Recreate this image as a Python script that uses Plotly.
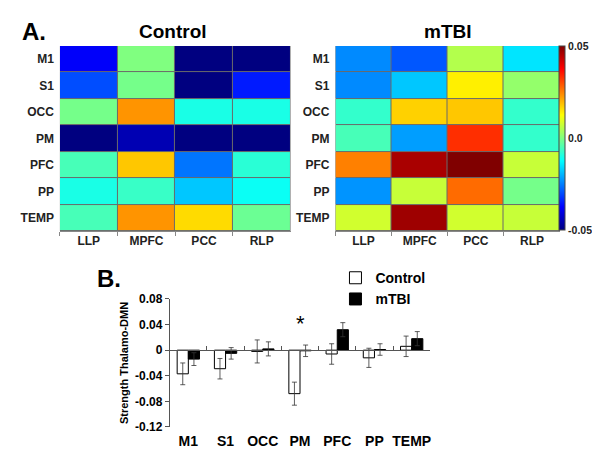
import plotly.graph_objects as go

regions = ["M1", "S1", "OCC", "PM", "PFC", "PP", "TEMP"]
dmn_nodes = ["LLP", "MPFC", "PCC", "RLP"]

control_matrix = [
    [-0.038, 0.000, -0.050, -0.050],
    [-0.030, -0.001, -0.050, -0.035],
    [-0.001, 0.023, -0.010, -0.010],
    [-0.050, -0.045, -0.050, -0.050],
    [-0.0055, 0.018, -0.026, -0.0085],
    [-0.010, -0.007, -0.018, -0.0115],
    [-0.0055, 0.023, 0.016, -0.002],
]
mtbi_matrix = [
    [-0.024, -0.029, 0.005, -0.015],
    [-0.024, -0.018, 0.014, 0.002],
    [-0.0075, 0.017, 0.018, -0.0075],
    [-0.0055, -0.022, 0.033, -0.0075],
    [0.025, 0.046, 0.050, 0.007],
    [-0.023, 0.007, 0.027, -0.001],
    [0.008, 0.047, 0.008, 0.007],
]

control_mean = [-0.037, -0.029, -0.002, -0.068, -0.006, -0.012, 0.006]
control_err = [0.017, 0.016, 0.018, 0.018, 0.016, 0.015, 0.016]
mtbi_mean = [-0.014, -0.005, 0.002, -0.001, 0.032, 0.001, 0.018]
mtbi_err = [0.010, 0.009, 0.011, 0.009, 0.011, 0.009, 0.011]

jet = [
    [0.0, "rgb(0,0,128)"],
    [0.125, "rgb(0,0,255)"],
    [0.375, "rgb(0,255,255)"],
    [0.625, "rgb(255,255,0)"],
    [0.875, "rgb(255,0,0)"],
    [1.0, "rgb(128,0,0)"],
]

FONT = "Liberation Sans, Arial, sans-serif"
W, H = 600, 455


def px(x):
    return x / W


def py(y):
    return 1 - y / H


fig = go.Figure()

fig.add_trace(go.Heatmap(
    z=control_matrix, x=dmn_nodes, y=regions, colorscale=jet,
    zmin=-0.05, zmax=0.05, xgap=1, ygap=1, showscale=False,
    xaxis="x", yaxis="y",
))
fig.add_trace(go.Heatmap(
    z=mtbi_matrix, x=dmn_nodes, y=regions, colorscale=jet,
    zmin=-0.05, zmax=0.05, xgap=1, ygap=1, showscale=True,
    xaxis="x2", yaxis="y2",
    colorbar=dict(
        x=px(552), xanchor="left", xpad=0, ypad=0, thickness=6, len=190 / H,
        y=py(127), yanchor="middle", outlinewidth=1, outlinecolor="#444",
        tickvals=[-0.05, 0, 0.05], ticktext=["-0.05", "0.0", "0.05"],
        ticks="", ticklabelposition="outside",
        tickfont=dict(family=FONT, size=10.5, color="#222", weight="bold"),
    ),
))

fig.add_trace(go.Bar(
    x=regions, y=control_mean, name="Control",
    marker=dict(color="white", line=dict(color="black", width=1)),
    error_y=dict(type="data", array=control_err, color="#333", thickness=0.8, width=2.5),
    xaxis="x3", yaxis="y3",
))
fig.add_trace(go.Bar(
    x=regions, y=mtbi_mean, name="mTBI",
    marker=dict(color="black", line=dict(color="black", width=1)),
    error_y=dict(type="data", array=mtbi_err, color="#333", thickness=0.8, width=2.5),
    xaxis="x3", yaxis="y3",
))
# invisible companion trace so the zero-crossing category axis is drawn
fig.add_trace(go.Scatter(
    x=regions, y=[None] * len(regions), mode="markers", showlegend=False,
    hoverinfo="skip", xaxis="x4", yaxis="y3",
))

tickfont_hm = dict(family=FONT, size=12, color="#222", weight="bold")
hm_x = dict(tickfont=tickfont_hm, showgrid=False, showline=True, linecolor="#888",
            linewidth=1, ticks="outside", tickson="boundaries", ticklen=4,
            tickcolor="#888", ticklabelstandoff=-2)

fig.update_layout(
    width=W, height=H, margin=dict(l=0, r=0, t=0, b=0),
    paper_bgcolor="white", plot_bgcolor="white",
    barmode="group", bargap=0.4, bargroupgap=0,
    xaxis=dict(domain=[px(52), px(283)], anchor="y", **hm_x),
    yaxis=dict(domain=[py(223), py(32)], anchor="x", autorange="reversed",
               tickfont=tickfont_hm, showgrid=False, ticks="", ticklabelstandoff=5),
    xaxis2=dict(domain=[px(328), px(553)], anchor="y2", **hm_x),
    yaxis2=dict(domain=[py(223), py(32)], anchor="x2", autorange="reversed",
                tickfont=tickfont_hm, showgrid=False, ticks="", ticklabelstandoff=5),
    xaxis3=dict(domain=[px(162), px(423)], anchor="y3",
                tickfont=dict(family=FONT, size=14, color="black", weight="bold"),
                showgrid=False, showline=False, ticks="", ticklabelstandoff=4),
    xaxis4=dict(matches="x3", overlaying="x3", anchor="free", position=py(346),
                showline=True, linecolor="#555", linewidth=1, ticks="inside",
                tickson="boundaries", ticklen=4, tickcolor="#555",
                showticklabels=False, showgrid=False),
    yaxis3=dict(domain=[py(425), py(293)], anchor="x3", range=[-0.12, 0.08],
                tickvals=[-0.12, -0.08, -0.04, 0, 0.04, 0.08],
                ticktext=["-0.12", "-0.08", "-0.04", "0", "0.04", "0.08"],
                tickfont=dict(family=FONT, size=12, color="black", weight="bold"),
                showgrid=False, showline=True, linecolor="#555", linewidth=1,
                ticks="outside", ticklen=4, tickcolor="#555",
                zeroline=True, zerolinecolor="#555", zerolinewidth=1,
                title=dict(text="Strength Thalamo-DMN", standoff=4,
                           font=dict(family=FONT, size=11, color="black", weight="bold"))),
    legend=dict(x=px(328), y=py(255), xanchor="left", yanchor="top",
                font=dict(family=FONT, size=14, color="black", weight="bold"),
                bgcolor="rgba(0,0,0,0)", tracegroupgap=0, itemwidth=30),
    showlegend=True,
)

# gray backing behind heatmaps so the cell gaps read as grid lines
for x0, x1 in [(52, 283), (328, 553)]:
    fig.add_shape(type="rect", xref="paper", yref="paper",
                  x0=px(x0), x1=px(x1), y0=py(223), y1=py(32),
                  fillcolor="#6a6a6a", line=dict(width=0), layer="below")

annots = [
    dict(text="A.", x=px(12), y=py(17), size=24),
    dict(text="Control", x=px(165), y=py(17), size=19, xanchor="center"),
    dict(text="mTBI", x=px(441), y=py(17), size=19, xanchor="center"),
    dict(text="B.", x=px(87), y=py(272), size=24),
]
for a in annots:
    fig.add_annotation(
        text=a["text"], x=a["x"], y=a["y"], xref="paper", yref="paper",
        xanchor=a.get("xanchor", "left"), yanchor="middle", showarrow=False,
        font=dict(family=FONT, size=a["size"], color="black", weight="bold"),
    )

fig.add_annotation(text="*", x="PM", y=0.042, xref="x3", yref="y3", showarrow=False,
                   font=dict(family=FONT, size=22, color="black"))

fig.write_html("out.html")
